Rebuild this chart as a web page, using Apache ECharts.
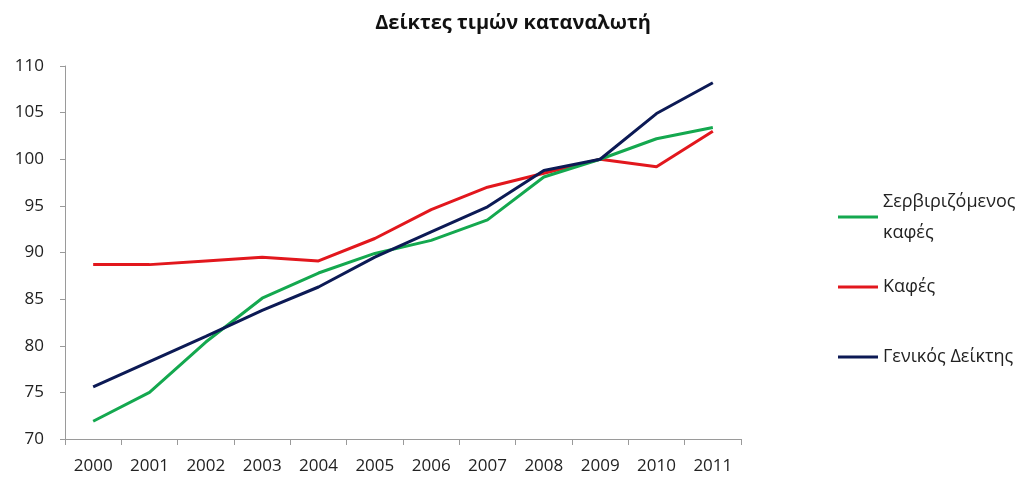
<!DOCTYPE html>
<html>
<head>
<meta charset="utf-8">
<script src="https://cdn.jsdelivr.net/npm/echarts@6/dist/echarts.min.js"></script>
<style>
  html, body { margin: 0; padding: 0; background: #fff; }
  #chart { width: 1026px; height: 479px; }
</style>
</head>
<body>
<div id="chart"></div>
<script>
// Consumer price indices, base year 2009 = 100
const years = ['2000','2001','2002','2003','2004','2005','2006','2007','2008','2009','2010','2011'];
const servedCoffee = [71.9, 75.0, 80.4, 85.1, 87.8, 89.9, 91.3, 93.5, 98.1, 100.0, 102.2, 103.4];
const coffee       = [88.7, 88.7, 89.1, 89.5, 89.1, 91.5, 94.6, 97.0, 98.5, 100.0, 99.2, 103.0];
const generalIndex = [75.6, 78.3, 81.0, 83.8, 86.3, 89.5, 92.2, 94.9, 98.8, 100.0, 104.9, 108.2];

const names = ['Σερβιριζόμενος\nκαφές', 'Καφές', 'Γενικός Δείκτης'];
const colors = ['#14a84f', '#e2171d', '#0c1a55'];

const FONT = 'Open Sans';
const legendLine = 31;

// one legend block per series so each entry sits at its own height;
// the top padding keeps the icon level with the first text line
function legendBox(name, top, extraPad) {
  return {
    data: [name],
    orient: 'vertical',
    left: 838,
    top: top,
    padding: 0,
    icon: 'rect',
    itemWidth: 40,
    itemHeight: 3,
    itemGap: 0,
    selectedMode: false,
    textStyle: {
      fontFamily: FONT,
      fontSize: 18,
      color: '#222',
      lineHeight: legendLine,
      padding: [extraPad, 0, 0, 0]
    }
  };
}

const chart = echarts.init(document.getElementById('chart'), null, { renderer: 'canvas' });
chart.setOption({
  animation: false,
  backgroundColor: '#fff',
  color: colors,
  title: {
    text: 'Δείκτες τιμών καταναλωτή',
    left: 'center',
    top: 8,
    textStyle: { fontFamily: FONT, fontSize: 20, fontWeight: 'bold', color: '#111' }
  },
  legend: [
    legendBox(names[0], 217 - 1.5 * legendLine, legendLine),
    legendBox(names[1], 287 - legendLine / 2, 0),
    legendBox(names[2], 357 - legendLine / 2, 0)
  ],
  grid: { left: 65, right: 285, top: 66, bottom: 40, containLabel: false },
  xAxis: {
    type: 'category',
    data: years,
    boundaryGap: true,
    axisLine: { lineStyle: { color: '#9a9a9a', width: 1 } },
    axisTick: { show: true, length: 6, lineStyle: { color: '#9a9a9a' } },
    axisLabel: { fontFamily: FONT, fontSize: 17, color: '#222', margin: 19 },
    splitLine: { show: false }
  },
  yAxis: {
    type: 'value',
    min: 70,
    max: 110,
    interval: 5,
    axisLine: { show: true, lineStyle: { color: '#9a9a9a', width: 1 } },
    axisTick: { show: true, length: 5, lineStyle: { color: '#9a9a9a' } },
    axisLabel: { fontFamily: FONT, fontSize: 17, color: '#222', margin: 21 },
    splitLine: { show: false }
  },
  series: [
    { name: names[0], type: 'line', data: servedCoffee, showSymbol: false, lineStyle: { width: 3 }, z: 2 },
    { name: names[1], type: 'line', data: coffee, showSymbol: false, lineStyle: { width: 3 }, z: 1 },
    { name: names[2], type: 'line', data: generalIndex, showSymbol: false, lineStyle: { width: 3 }, z: 3 }
  ]
});
</script>
</body>
</html>
